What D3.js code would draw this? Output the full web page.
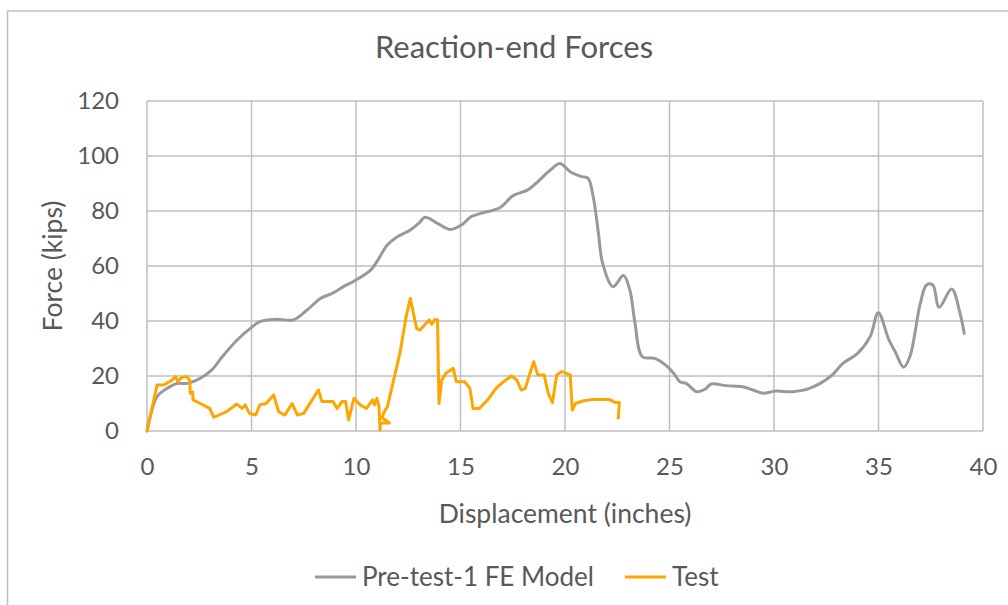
<!DOCTYPE html>
<html>
<head>
<meta charset="utf-8">
<script src="https://cdn.jsdelivr.net/npm/d3@7"></script>
<style>
  html, body { margin: 0; padding: 0; background: #fff; }
  svg { display: block; }
  text { font-family: Lato, "Open Sans", sans-serif; fill: #595959; }
</style>
</head>
<body>
<svg id="chart" width="1008" height="605"></svg>
<script>
// Reaction-end force vs. displacement: FE model prediction and test record
const titleText = "Reaction-end Forces";
const xTitle = "Displacement (inches)";
const yTitle = "Force (kips)";
const seriesNames = ["Pre-test-1 FE Model", "Test"];
const seriesColors = ["#999999", "#ffa500"];
const xTicks = [0, 5, 10, 15, 20, 25, 30, 35, 40];
const yTicks = [0, 20, 40, 60, 80, 100, 120];

// FE model: [displacement (in), force (kips)]
const feModel = [
  [0, 0], [0.2, 6.5], [0.48, 12.5], [0.96, 15.5], [1.44, 17.3], [1.9, 17.3],
  [2.55, 19.2], [3.1, 22.2], [3.6, 27], [4.3, 33], [4.94, 37.3], [5.4, 39.8],
  [6.2, 40.6], [7.0, 40.4], [7.66, 44], [8.3, 48.2], [8.85, 50], [9.4, 52.5],
  [10.0, 54.9], [10.7, 58.5], [11.0, 61.6], [11.5, 67.6], [12.0, 70.7],
  [12.6, 73.1], [13.0, 75.5], [13.3, 77.7], [13.9, 75.5], [14.5, 73.3],
  [15.05, 74.9], [15.5, 77.9], [16.1, 79.4], [16.9, 81.3], [17.5, 85.5],
  [18.2, 87.6], [18.6, 90], [19.3, 94.9], [19.76, 97.3], [20.25, 94.3],
  [20.8, 92.5], [21.1, 91.9], [21.35, 85.2], [21.6, 71.9], [21.8, 61],
  [22.3, 52.5], [22.8, 56.5], [23.1, 51.3], [23.35, 39.2], [23.7, 27],
  [24.3, 26.4], [24.9, 23.4], [25.2, 21], [25.5, 17.9], [25.8, 17.3],
  [26.3, 14.3], [26.7, 15.2], [27.0, 17.1], [27.7, 16.5], [28.5, 16.1],
  [29.0, 14.9], [29.5, 13.7], [30.05, 14.5], [30.9, 14.3], [31.7, 15.5],
  [32.7, 19.8], [33.3, 24.6], [34.0, 28.2], [34.6, 34.3], [34.99, 43.0],
  [35.5, 33.1], [35.8, 28.8], [36.2, 23.2], [36.5, 27], [37.0, 46.4],
  [37.3, 53.1], [37.6, 53.1], [37.9, 45], [38.5, 51.6], [38.9, 42.8],
  [39.1, 35.5]
];

// Test record: [displacement (in), force (kips)]
const testData = [
  [0, 0], [0.48, 16.7], [0.8, 16.7], [1.2, 18.5], [1.36, 19.8], [1.47, 18.0],
  [1.67, 19.5], [1.9, 19.8], [2.04, 18.5], [2.07, 13.7], [2.19, 14.2],
  [2.2, 11.3], [2.55, 10], [3.0, 8.2], [3.2, 5], [3.8, 7], [4.3, 9.8],
  [4.55, 8.2], [4.7, 9.5], [4.9, 6.4], [5.2, 5.8], [5.4, 9.5], [5.7, 10],
  [6.06, 13.1], [6.3, 7], [6.6, 5.8], [6.94, 10], [7.2, 5.8], [7.5, 6.4],
  [8.0, 12.5], [8.2, 14.9], [8.37, 10.7], [8.9, 10.7], [9.1, 8.2],
  [9.33, 10.7], [9.5, 10.7], [9.65, 4], [9.9, 11.9], [10.2, 9.5], [10.5, 8.2],
  [10.8, 11.3], [10.88, 9.5], [11.0, 11.9], [11.1, 9.0], [11.15, 0.3],
  [11.17, 2.9], [11.6, 2.9], [11.25, 4.8], [11.35, 7], [11.5, 8.8],
  [11.8, 18.5], [12.1, 28.2], [12.4, 41.6], [12.6, 48.2], [12.9, 37.3],
  [13.06, 36.7], [13.5, 40.4], [13.63, 38.8], [13.78, 40.6], [13.9, 40.4],
  [13.97, 10], [14.1, 18.5], [14.3, 21], [14.65, 22.8], [14.8, 17.9],
  [15.2, 17.9], [15.45, 15.5], [15.6, 8.2], [15.9, 8.2], [16.3, 11.3],
  [16.7, 15.5], [17.05, 17.9], [17.45, 20], [17.7, 18.5], [17.9, 14.9],
  [18.1, 15.5], [18.5, 25.2], [18.7, 20.4], [19.0, 20.4], [19.2, 13.7],
  [19.4, 10.3], [19.6, 20.4], [19.85, 21.6], [20.25, 20.4], [20.35, 7.6],
  [20.5, 10], [20.9, 11], [21.35, 11.5], [22.1, 11.5], [22.4, 10.4],
  [22.6, 10.4], [22.55, 4.7]
];

const svg = d3.select("#chart");

// outer chart frame (continues past the right and bottom edges)
svg.append("path")
  .attr("d", "M7.5,620 V11 H1020")
  .attr("fill", "none")
  .attr("stroke", "#bfbfbf")
  .attr("stroke-width", 1.5);

const plot = { left: 147, right: 983, top: 101, bottom: 431 };

const x = d3.scaleLinear().domain([0, 40]).range([plot.left, plot.right]);
const y = d3.scaleLinear().domain([0, 120]).range([plot.bottom, plot.top]);

// gridlines
const grid = svg.append("g").attr("stroke", "#bfbfbf").attr("stroke-width", 1.5);
grid.selectAll("line.v").data(xTicks).join("line")
  .attr("x1", d => x(d)).attr("x2", d => x(d))
  .attr("y1", plot.top).attr("y2", plot.bottom);
grid.selectAll("line.h").data(yTicks).join("line")
  .attr("x1", plot.left).attr("x2", plot.right)
  .attr("y1", d => y(d)).attr("y2", d => y(d));

// axes (labels only; the gridlines carry the frame)
const xAxis = svg.append("g")
  .attr("transform", `translate(0,${plot.bottom})`)
  .call(d3.axisBottom(x).tickValues(xTicks).tickSize(0).tickPadding(27));
const yAxis = svg.append("g")
  .attr("transform", `translate(${plot.left},0)`)
  .call(d3.axisLeft(y).tickValues(yTicks).tickSize(0).tickPadding(28));
[xAxis, yAxis].forEach(g => {
  g.select(".domain").remove();
  g.selectAll("text").attr("font-size", 24).attr("font-family", "Lato, sans-serif").attr("fill", "#595959");
});

// series: the model curve is smooth, the test record is drawn point to point
const smoothLine = d3.line().x(d => x(d[0])).y(d => y(d[1])).curve(d3.curveCatmullRom.alpha(0.5));
const straightLine = d3.line().x(d => x(d[0])).y(d => y(d[1]));
const series = [
  { data: feModel, gen: smoothLine },
  { data: testData, gen: straightLine }
];
svg.append("g").selectAll("path").data(series).join("path")
  .attr("d", d => d.gen(d.data))
  .attr("fill", "none")
  .attr("stroke", (d, i) => seriesColors[i])
  .attr("stroke-width", 3)
  .attr("stroke-linejoin", "round")
  .attr("stroke-linecap", "round");

// title and axis titles
svg.append("text")
  .attr("x", 514).attr("y", 58)
  .attr("text-anchor", "middle")
  .attr("font-size", 31)
  .text(titleText);

svg.append("text")
  .attr("x", (plot.left + plot.right) / 2).attr("y", 523)
  .attr("text-anchor", "middle")
  .attr("font-size", 26.5)
  .text(xTitle);

svg.append("text")
  .attr("transform", `translate(62,${(plot.top + plot.bottom) / 2}) rotate(-90)`)
  .attr("text-anchor", "middle")
  .attr("font-size", 26.5)
  .text(yTitle);

// legend
const legendItems = [
  { name: seriesNames[0], color: seriesColors[0], x0: 315 },
  { name: seriesNames[1], color: seriesColors[1], x0: 625 }
];
const legend = svg.append("g");
legendItems.forEach(it => {
  legend.append("line")
    .attr("x1", it.x0).attr("x2", it.x0 + 41)
    .attr("y1", 577).attr("y2", 577)
    .attr("stroke", it.color).attr("stroke-width", 3);
  legend.append("text")
    .attr("x", it.x0 + 47).attr("y", 586)
    .attr("font-size", 26)
    .text(it.name);
});
</script>
</body>
</html>
